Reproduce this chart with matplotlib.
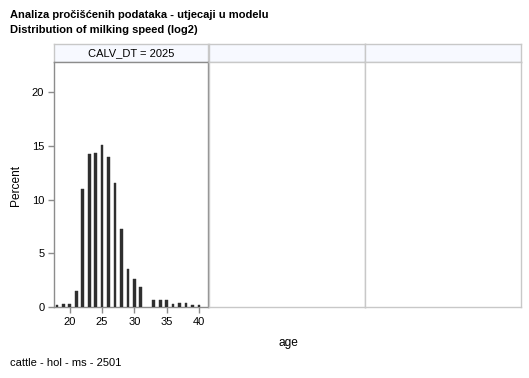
import matplotlib.pyplot as plt

plt.rcParams["font.family"] = ["Liberation Sans", "DejaVu Sans"]

# values
ages = [18, 19, 20, 21, 22, 23, 24, 25, 26, 27, 28, 29, 30, 31,
        33, 34, 35, 36, 37, 38, 39, 40]
percent = [0.2, 0.3, 0.3, 1.5, 10.95, 14.2, 14.35, 15.05, 14.0, 11.5, 7.25,
           3.5, 2.6, 1.9, 0.65, 0.65, 0.65, 0.3, 0.4, 0.4, 0.2, 0.2]
panel_label = "CALV_DT = 2025"
y_ticks = [0, 5, 10, 15, 20]
x_ticks = [20, 25, 30, 35, 40]

W, H = 529, 378


def box(x0, y0, x1, y1):
    """Pixel box (top-left origin) -> figure fraction rect."""
    return [x0 / W, 1 - y1 / H, (x1 - x0) / W, (y1 - y0) / H]


fig = plt.figure(figsize=(W / 100, H / 100), dpi=100)
fig.patch.set_facecolor("white")

panels = [(54, 208), (209, 365), (365, 521)]
top, bottom, head_top = 62, 307, 44
light = "#c8c8c8"
dark = "#8c8c8c"

axes = []
for i, (x0, x1) in enumerate(panels):
    # header strip
    hax = fig.add_axes(box(x0, head_top, x1, top))
    hax.set_facecolor("#f7f9ff")
    hax.set_xticks([])
    hax.set_yticks([])
    for s in hax.spines.values():
        s.set_color(light)
        s.set_linewidth(1)
    if i == 0:
        hax.text(0.5, 0.5, panel_label, ha="center", va="center",
                 fontsize=8, transform=hax.transAxes)

    ax = fig.add_axes(box(x0, top, x1, bottom))
    ax.set_xlim(17.55, 41.4)
    ax.set_ylim(0, 22.8)
    for s in ax.spines.values():
        s.set_color(dark if i == 0 else light)
        s.set_linewidth(1)
    ax.set_xticks([])
    ax.set_yticks([])
    axes.append(ax)

ax = axes[0]
ax.bar(ages, percent, width=0.42, color="#2f2f2f", edgecolor="#2f2f2f",
       linewidth=0.3, zorder=3)
ax.set_yticks(y_ticks)
ax.set_xticks(x_ticks)
ax.tick_params(axis="both", colors=dark, length=4, width=1, labelsize=8,
               labelcolor="black", pad=3)

fig.text(16 / W, 1 - 185 / H, "Percent", ha="center", va="center",
         rotation=90, fontsize=8.6)
fig.text(288 / W, 1 - 343 / H, "age", ha="center", va="center", fontsize=8.6)

fig.text(10 / W, 1 - 15 / H, "Analiza pročišćenih podataka - utjecaji u modelu",
         ha="left", va="center", fontsize=8, fontweight="bold")
fig.text(10 / W, 1 - 30 / H, "Distribution of milking speed (log2)",
         ha="left", va="center", fontsize=8, fontweight="bold")
fig.text(10 / W, 1 - 363 / H, "cattle - hol - ms - 2501",
         ha="left", va="center", fontsize=8)

fig.savefig("out.png", dpi=100)
